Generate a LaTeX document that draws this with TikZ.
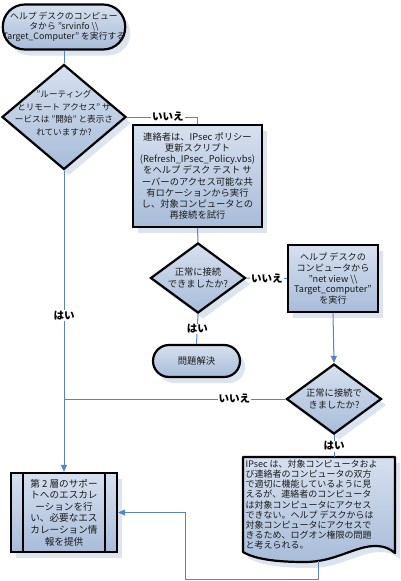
\documentclass[tikz,border=0pt]{standalone}
\usepackage{fontspec}
\setmainfont{Noto Sans CJK JP}
\usetikzlibrary{shapes.geometric,arrows.meta}
\definecolor{lc}{HTML}{5585C4}
\definecolor{fa}{HTML}{D6E0EF}
\definecolor{fb}{HTML}{A8BCD9}
\definecolor{sh}{HTML}{DCE4F0}
\definecolor{tc}{HTML}{1A1A1A}
\begin{document}
\begin{tikzpicture}[x=1pt,y=-1pt,
  shp/.style={draw=black, line width=2.2pt, top color=fa, bottom color=fb,
    preaction={draw=none, fill=sh, transform canvas={xshift=5pt,yshift=-6pt}},
    inner sep=0pt, text=tc, align=center},
  dia/.style={shp, diamond, aspect=1},
  txt/.style={text=tc, align=center, inner sep=0pt},
  conn/.style={draw=lc, line width=1pt},
  arr/.style={conn, -{Triangle[length=7pt,width=6pt]}},
  lbl/.style={fill=white, inner sep=1pt, text=black, font=\fontsize{10.5}{12}\selectfont\bfseries}
]
\useasboundingbox (0,0) rectangle (400,581);
\fill[white] (0,0) rectangle (400,581);

% start terminator
\node[shp, rectangle, rounded corners=22pt, minimum width=118pt, minimum height=45pt,
  font=\fontsize{8.8}{10.2}\selectfont] (start) at (64,27)
  {ヘルプ デスクのコンピュー\\タから "srvinfo \textbackslash\textbackslash\\Target\_Computer" を実行する};

% decision 1
\node[dia, minimum width=124pt, minimum height=105pt] (d1) at (64,117) {};
\node[txt, font=\fontsize{8.6}{12.6}\selectfont] (d1t) at (64,113)
  {"ルーティング\\とリモート アクセス" サ\\ービスは "開始" と表示さ\\れていますか?};

% box 1
\node[shp, rectangle, minimum width=129pt, minimum height=102pt,
  font=\fontsize{9.3}{11.2}\selectfont] (b1) at (197.5,176)
  {連絡者は、IPsec ポリシー\\更新スクリプト\\(Refresh\_IPsec\_Policy.vbs)\\をヘルプ デスク テスト サ\\ーバーのアクセス可能な共\\有ロケーションから実行\\し、対象コンピュータとの\\再接続を試行};

% decision 2
\node[dia, minimum width=95pt, minimum height=70pt] (d2) at (198,278) {};
\node[txt, font=\fontsize{9.3}{11.5}\selectfont] (d2t) at (198,278)
  {正常に接続\\できましたか?};

% box 2
\node[shp, rectangle, minimum width=90pt, minimum height=67pt,
  font=\fontsize{9.1}{10.7}\selectfont] (b2) at (333,278.5)
  {ヘルプ デスクの\\コンピュータから\\"net view \textbackslash\textbackslash\\Target\_computer"\\を実行};

% end terminator
\node[shp, rectangle, rounded corners=16pt, minimum width=87pt, minimum height=32pt,
  font=\fontsize{9.3}{11}\selectfont] (end1) at (196.5,361) {問題解決};

% decision 3
\node[dia, minimum width=95pt, minimum height=70pt] (d3) at (334,399) {};
\node[txt, font=\fontsize{9.3}{12.5}\selectfont] (d3t) at (334,399)
  {正常に接続で\\きましたか?};

% escalation (predefined process)
\node[shp, rectangle, minimum width=106pt, minimum height=79pt,
  font=\fontsize{9.6}{11.6}\selectfont] (esc) at (64,512.5)
  {第 2 層のサポー\\トへのエスカレ\\ーションを行\\い、必要なエス\\カレーション情\\報を提供};
\draw[line width=2.2pt] ([xshift=13pt]esc.north west) -- ([xshift=13pt]esc.south west);
\draw[line width=2.2pt] ([xshift=-13pt]esc.north east) -- ([xshift=-13pt]esc.south east);

% document shape
\def\docpath{(243,457) -- (395,457) -- (395,553) .. controls (390,549) and (385,546) .. (375,546) .. controls (355,546) and (335,562) .. (305,562) .. controls (275,562) and (255,559) .. (243,552) -- cycle}
\fill[sh, shift={(5,6)}] \docpath;
\shade[top color=fa, bottom color=fb] \docpath;
\draw[line width=2.2pt, line join=round] \docpath;
\node[txt, anchor=north west, align=left, font=\fontsize{9}{10.1}\selectfont] (doct) at (245.5,459.8)
  {IPsec は、対象コンピュータおよ\\び連絡者のコンピュータの双方\\で適切に機能しているように見\\えるが、連絡者のコンピュータ\\は対象コンピュータにアクセス\\できない。ヘルプ デスクからは\\対象コンピュータにアクセスで\\きるため、ログオン権限の問題\\と考えられる。};
\coordinate (doctop) at (334,457);
\coordinate (docb) at (318,561);
\coordinate (turn) at (185,579.5);

% connectors
\draw[conn] (start.south) -- (d1.north);
\draw[conn] (d1.east) -- node[lbl, pos=0.58]{いいえ} (d1.east -| b1.north) -- (b1.north);
\draw[conn] (b1.south) -- (d2.north);
\draw[conn] (d2.east) -- node[lbl]{いいえ} (b2.west);
\draw[conn] (d2.south) -- node[lbl]{はい} (end1.north);
\draw[arr] (b2.south) -- (d3.north);
\draw[arr] (d1.south) -- node[lbl, pos=0.48]{はい} (esc.north);
\draw[conn] (d3.west) -- node[lbl, pos=0.23]{いいえ} (d3.west -| d1.south);
\draw[conn] (d3.south) -- node[lbl]{はい} (doctop);
\draw[arr] (docb) |- (turn) |- (esc.east);
\end{tikzpicture}
\end{document}
